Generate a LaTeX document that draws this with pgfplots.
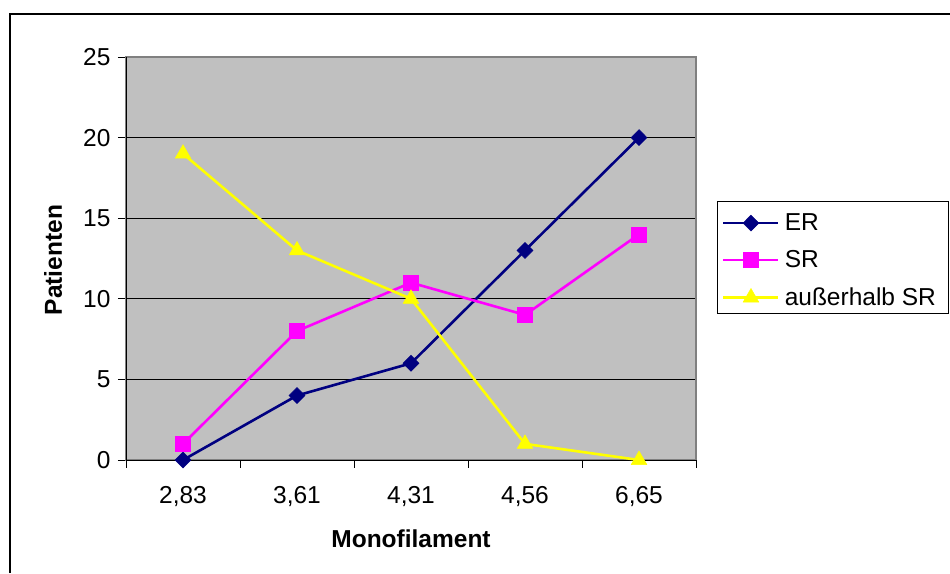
\documentclass[border=0pt]{standalone}
\usepackage{fontspec}
\setmainfont{Liberation Sans}
\usepackage{pgfplots}
\pgfplotsset{compat=1.18}
\definecolor{plotgray}{HTML}{C0C0C0}
\definecolor{framegray}{HTML}{808080}
\definecolor{ernavy}{HTML}{000080}
\definecolor{srmag}{HTML}{FF00FF}
\definecolor{ausyel}{HTML}{FFFF00}
\begin{document}
\begin{tikzpicture}[x=1pt,y=1pt]
\path[use as bounding box] (0,0) rectangle (950,573);
\draw[line width=1.2pt] (10,0) -- (10,559) -- (951,559);
\draw[line width=1pt, fill=white] (717,259) rectangle (948,371);
\begin{axis}[
  at={(126pt,113pt)}, anchor=south west,
  scale only axis, width=570pt, height=403pt,
  xmin=-0.5, xmax=4.5, ymin=0, ymax=25,
  clip=false,
  xtick={0,1,2,3,4},
  xticklabels={{2,83},{3,61},{4,31},{4,56},{6,65}},
  xtick style={draw=none},
  ytick={0,5,10,15,20,25},
  ytick pos=left,
  ymajorgrids, grid style={black, line width=0.8pt},
  axis background/.style={fill=plotgray},
  axis line style={draw=none},
  tick align=outside, major tick length=8pt,
  ytick style={black, line width=0.8pt},
  /pgf/number format/assume math mode=true,
  tick label style={font=\fontsize{24.5}{24.5}\selectfont},
  yticklabel style={xshift=-4pt},
  xticklabel style={yshift=-15pt},
  xlabel={\textbf{Monofilament}},
  xlabel style={at={(axis description cs:0.5,-0.218)}, anchor=base, font=\fontsize{24.5}{24.5}\selectfont},
  ylabel={\textbf{Patienten}},
  ylabel style={at={(axis description cs:-0.1123,0.496)}, anchor=base, rotate=0, font=\fontsize{24.5}{24.5}\selectfont},
  legend style={at={(axis description cs:1.0403,0.621)}, anchor=north west, draw=none, fill=none,
    font=\fontsize{24.5}{24.5}\selectfont, row sep=14.5pt, nodes={inner sep=2pt},
    /tikz/every odd column/.append style={column sep=3pt}},
  legend cell align=left,
  legend image code/.code={\draw[mark repeat=2,mark phase=2] plot coordinates {(0pt,0pt)(27.5pt,0pt)(55pt,0pt)};},
]
\draw[framegray, line width=2pt] (rel axis cs:0,0) rectangle (rel axis cs:1,1);
\draw[black, line width=1pt] (rel axis cs:0,1) -- (rel axis cs:0,0) -- (rel axis cs:1,0);
\foreach \b in {-0.5,0.5,1.5,2.5,3.5,4.5} {
  \edef\temp{\noexpand\draw[black, line width=0.8pt] (axis cs:\b,0) -- ++(0pt,-8pt);}\temp
}
\addplot[ernavy, line width=2.6pt, mark=diamond*, mark size=8pt, mark options={xscale=1.33, fill=ernavy, draw=ernavy, line width=0.5pt}]
  coordinates {(0,0) (1,4) (2,6) (3,13) (4,20)};
\addlegendentry{ER}
\addplot[srmag, line width=2.6pt, mark=square*, mark size=7.5pt, mark options={fill=srmag, draw=srmag, line width=0.5pt}]
  coordinates {(0,1) (1,8) (2,11) (3,9) (4,14)};
\addlegendentry{SR}
\addplot[ausyel, line width=2.6pt, mark=triangle*, mark size=9pt, mark options={fill=ausyel, draw=ausyel, line width=0.5pt}]
  coordinates {(0,19) (1,13) (2,10) (3,1) (4,0)};
\addlegendentry{außerhalb SR}
\end{axis}
\end{tikzpicture}
\end{document}
